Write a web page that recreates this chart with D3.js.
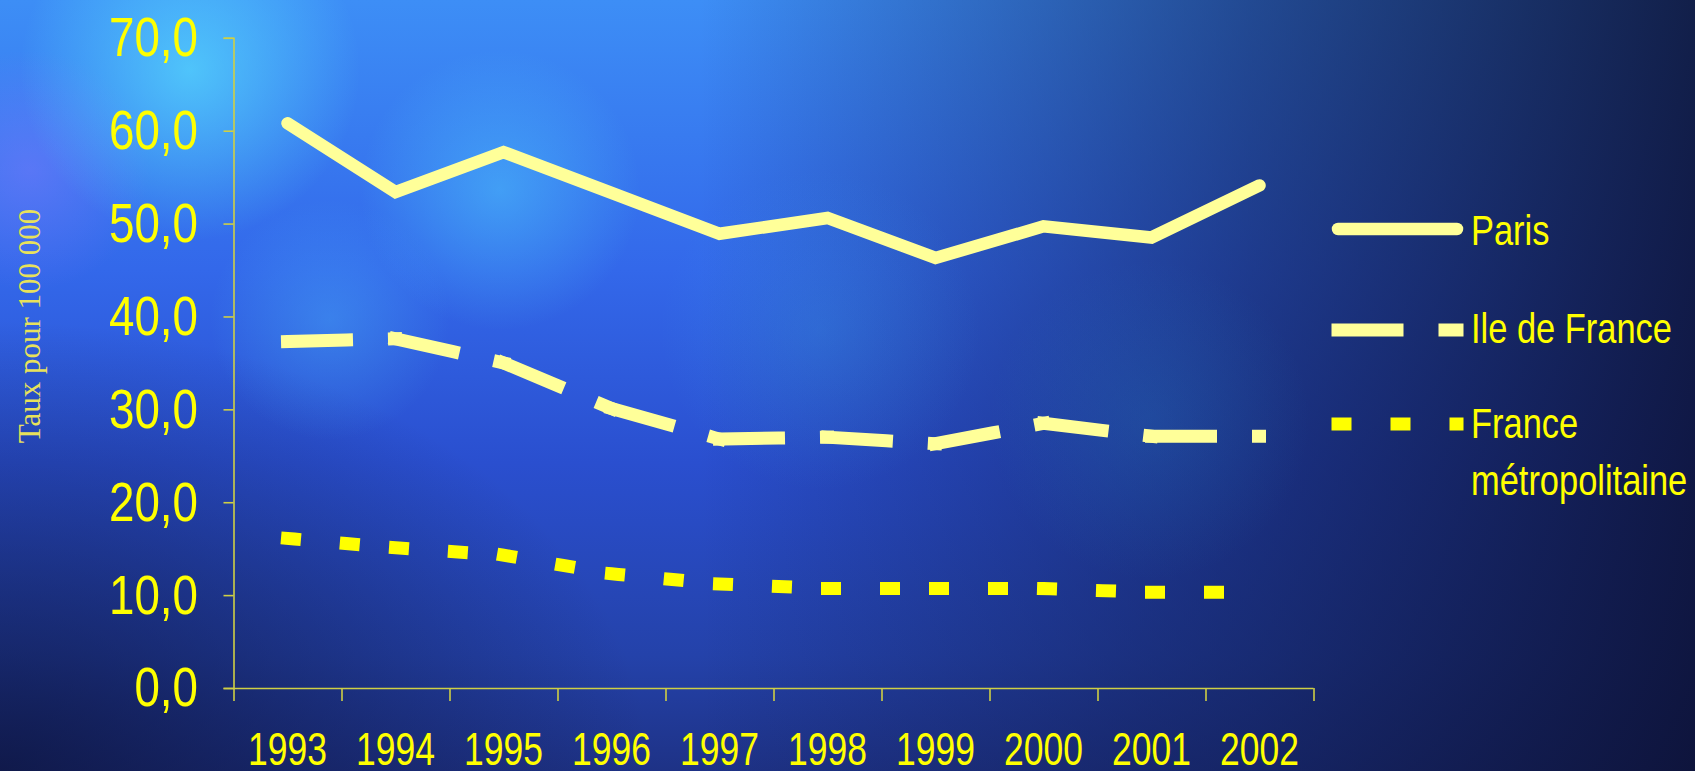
<!DOCTYPE html>
<html>
<head>
<meta charset="utf-8">
<script src="https://cdn.jsdelivr.net/npm/d3@7"></script>
<style>
  html, body { margin: 0; padding: 0; }
  body { width: 1695px; height: 771px; overflow: hidden; }
  #bg {
    position: absolute; left: 0; top: 0; width: 1695px; height: 771px;
    background:
      radial-gradient(circle at 190px 70px, rgba(90,230,255,0.65) 0, rgba(90,230,255,0) 170px),
      radial-gradient(circle at 500px 190px, rgba(80,210,255,0.45) 0, rgba(80,210,255,0) 140px),
      radial-gradient(circle at 330px 320px, rgba(80,200,255,0.3) 0, rgba(80,200,255,0) 120px),
      radial-gradient(circle at 820px 330px, rgba(60,170,230,0.22) 0, rgba(60,170,230,0) 160px),
      radial-gradient(circle at 1150px 420px, rgba(40,140,200,0.2) 0, rgba(40,140,200,0) 160px),
      radial-gradient(circle at 30px 170px, rgba(130,120,255,0.45) 0, rgba(130,120,255,0) 120px),
      radial-gradient(ellipse 650px 450px at 0px 771px, rgba(10,15,50,0.7), rgba(10,15,50,0)),
      linear-gradient(to right, rgba(14,20,60,0) 0px, rgba(14,20,60,0) 700px, rgba(16,28,80,0.6) 1250px, rgba(12,16,50,0.88) 1695px),
      linear-gradient(to bottom, #3d8ef6 0%, #3368ea 35%, #2a4fcf 60%, #2442aa 85%, #1e3286 100%);
  }
  svg { position: absolute; left: 0; top: 0; }
</style>
</head>
<body>
<div id="bg"></div>
<svg id="chart" width="1695" height="771"></svg>
<script>
// ---- data ----
const years = ["1993","1994","1995","1996","1997","1998","1999","2000","2001","2002"];
const paris = [60.8, 53.4, 57.7, 53.3, 48.9, 50.6, 46.3, 49.7, 48.5, 54.1];
const ileDeFrance = [37.3, 37.6, 35.0, 30.1, 26.8, 27.0, 26.3, 28.5, 27.1, 27.1];
const franceMetro = [16.1, 15.1, 14.3, 12.3, 11.2, 10.7, 10.7, 10.7, 10.3, 10.3];
const yTickValues = [0, 10, 20, 30, 40, 50, 60, 70];
const seriesNames = ["Paris", "Ile de France", ["France", "métropolitaine"]];
const yTitle = "Taux pour 100 000";

// ---- layout ----
const plotLeft = 233.5, plotRight = 1313.5, plotTop = 37.8, plotBottom = 688;
const axisColor = "#cfcf45";
const textYellow = "#ffff00";
const paleYellow = "#ffff99";
const sansFamily = "'Liberation Sans', Arial, sans-serif";
// condensed look of the original (Arial Narrow style)
const yLabelScale = 0.817, xLabelScale = 0.77, legendScale = 0.82;

const svg = d3.select("#chart");

const x = d3.scaleBand().domain(years).range([plotLeft, plotRight]);
const xEdge = d3.scaleLinear().domain([0, years.length]).range([plotLeft, plotRight]);
const y = d3.scaleLinear().domain([0, 70]).range([plotBottom, plotTop]);
const cx = d => x(d) + x.bandwidth() / 2;

// ---- Y axis ----
const yAxis = d3.axisLeft(y).tickValues(yTickValues).tickSize(10).tickPadding(25.5)
  .tickFormat(d => d3.format(".1f")(d).replace(".", ","));
const gy = svg.append("g").attr("transform", `translate(${plotLeft},0)`).call(yAxis);
gy.select(".domain").attr("stroke", axisColor).attr("stroke-width", 1.6);
gy.selectAll(".tick line").attr("stroke", axisColor).attr("stroke-width", 1.6);
gy.selectAll(".tick text")
  .attr("fill", textYellow)
  .attr("font-family", sansFamily)
  .attr("font-size", 56)
  .each(function() {
    const t = d3.select(this);
    const xx = +t.attr("x");
    t.attr("x", xx / yLabelScale).attr("transform", `scale(${yLabelScale},1)`);
  });

// ---- X axis: ticks at band edges ----
const xTicksAxis = d3.axisBottom(xEdge).tickValues(d3.range(0, years.length + 1)).tickSize(13).tickFormat("");
const gxt = svg.append("g").attr("transform", `translate(0,${plotBottom})`).call(xTicksAxis);
gxt.select(".domain").attr("stroke", axisColor).attr("stroke-width", 1.6).attr("d", `M${plotLeft},0.5H${plotRight}`);
gxt.selectAll(".tick line").attr("stroke", axisColor).attr("stroke-width", 1.6);

const xLabels = d3.axisBottom(x).tickSize(0).tickPadding(45);
const gxl = svg.append("g").attr("transform", `translate(0,${plotBottom})`).call(xLabels);
gxl.select(".domain").remove();
gxl.selectAll(".tick text")
  .attr("fill", textYellow)
  .attr("font-family", sansFamily)
  .attr("font-size", 46)
  .attr("dy", null)
  .attr("y", 77)
  .attr("transform", `scale(${xLabelScale},1)`);

// ---- Y title ----
svg.append("text")
  .attr("transform", `translate(40,326) rotate(-90)`)
  .attr("text-anchor", "middle")
  .attr("font-family", "'Liberation Serif', 'Times New Roman', serif")
  .attr("font-size", 31)
  .attr("fill", "#e8e25a")
  .text(yTitle);

// ---- series ----
const line = d3.line().x(d => cx(d.year)).y(d => y(d.v));
const toPts = arr => arr.map((v, i) => ({ year: years[i], v }));

// Paris: solid line
svg.append("path")
  .datum(toPts(paris))
  .attr("d", line)
  .attr("fill", "none")
  .attr("stroke", paleYellow)
  .attr("stroke-width", 12.5)
  .attr("stroke-linecap", "round")
  .attr("stroke-linejoin", "miter");

// dashed series drawn segment by segment (pattern restarts at each point)
function segments(arr) {
  return d3.pairs(toPts(arr));
}
svg.append("g").selectAll("path")
  .data(segments(ileDeFrance))
  .join("path")
  .attr("d", d => line(d))
  .attr("fill", "none")
  .attr("stroke", paleYellow)
  .attr("stroke-width", 13)
  .attr("stroke-linecap", "square")
  .attr("stroke-dasharray", "59,48");

svg.append("g").selectAll("path")
  .data(segments(franceMetro))
  .join("path")
  .attr("d", d => line(d))
  .attr("fill", "none")
  .attr("stroke", textYellow)
  .attr("stroke-width", 13)
  .attr("stroke-linecap", "square")
  .attr("stroke-dasharray", "7,52");

// ---- legend ----
const legendX0 = 1338, legendX1 = 1457, legendTextX = 1471;
const legendItems = [
  { name: seriesNames[0], ly: 229, ty: [245], stroke: paleYellow, cap: "round", dash: null },
  { name: seriesNames[1], ly: 330, ty: [343], stroke: paleYellow, cap: "square", dash: "59,48" },
  { name: seriesNames[2], ly: 424, ty: [438, 495], stroke: textYellow, cap: "square", dash: "7,52" }
];
const lg = svg.append("g").selectAll("g").data(legendItems).join("g");
lg.append("path")
  .attr("d", d => `M${legendX0},${d.ly}H${legendX1}`)
  .attr("fill", "none")
  .attr("stroke", d => d.stroke)
  .attr("stroke-width", d => d.cap === "round" ? 12.5 : 13)
  .attr("stroke-linecap", d => d.cap)
  .attr("stroke-dasharray", d => d.dash);
lg.each(function(d) {
  const names = Array.isArray(d.name) ? d.name : [d.name];
  const g = d3.select(this);
  names.forEach((n, i) => {
    g.append("text")
      .attr("x", legendTextX / legendScale)
      .attr("y", d.ty[i])
      .attr("transform", `scale(${legendScale},1)`)
      .attr("font-family", sansFamily)
      .attr("font-size", 42)
      .attr("fill", textYellow)
      .text(n);
  });
});
</script>
</body>
</html>
